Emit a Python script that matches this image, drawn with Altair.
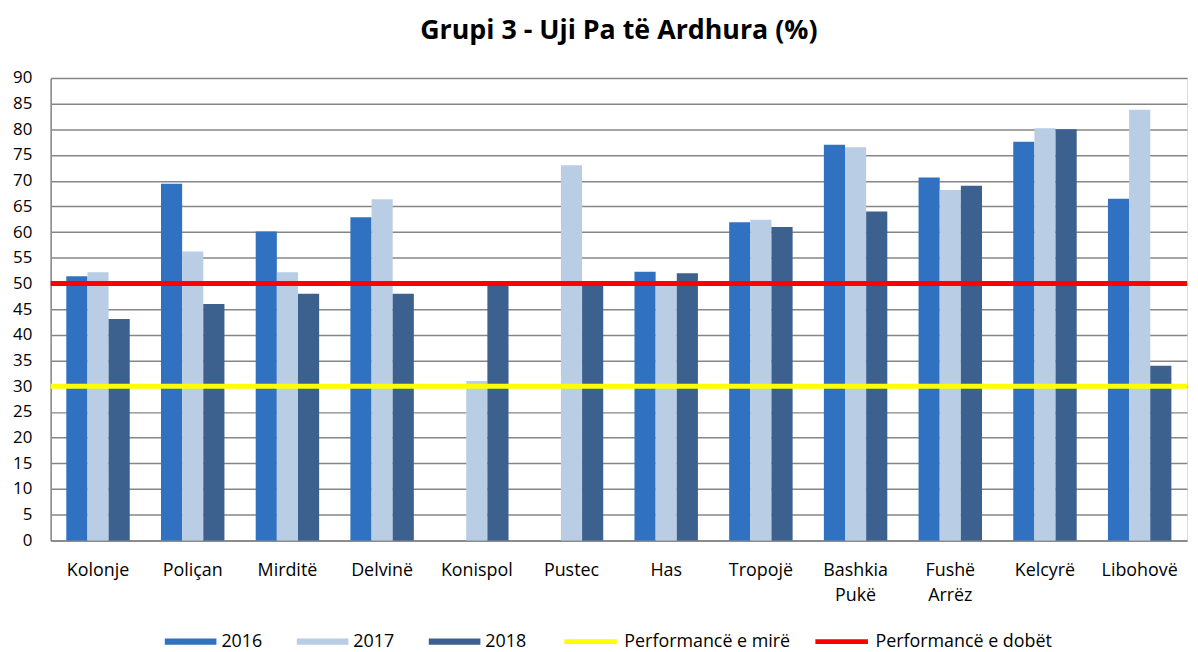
import altair as alt
import pandas as pd

municipalities = ["Kolonje", "Poliçan", "Mirditë", "Delvinë", "Konispol", "Pustec",
                  "Has", "Tropojë", "Bashkia Pukë", "Fushë Arrëz", "Kelcyrë", "Libohovë"]
years = ["2016", "2017", "2018"]
v2016 = [51.4, 69.4, 60.1, 62.9, None, None, 52.3, 61.9, 77.0, 70.6, 77.6, 66.5]
v2017 = [52.2, 56.2, 52.2, 66.4, 31.0, 73.0, 50.2, 62.4, 76.5, 68.2, 80.2, 83.8]
v2018 = [43.1, 46.0, 48.0, 48.0, 49.6, 49.6, 52.0, 61.0, 64.0, 69.0, 80.0, 34.0]
threshold_values = [30, 50]
threshold_labels = ["Performancë e mirë", "Performancë e dobët"]
y_ticks = list(range(0, 91, 5))

bar_colors = ["#3072C1", "#B9CDE5", "#3C618F"]
line_colors = ["#FFFF00", "#FF0000"]
FONT = "Open Sans"

rows = []
for yr, vals in zip(years, [v2016, v2017, v2018]):
    for m, v in zip(municipalities, vals):
        if v is not None:
            rows.append({"Bashkia": m, "Viti": yr, "Vlera": v})
df = pd.DataFrame(rows)
tdf = pd.DataFrame({"Vlera": threshold_values, "Pragu": threshold_labels})

y_axis = alt.Axis(title=None, values=y_ticks, ticks=False, labelOverlap=False,
                  labelFontSize=17, labelFont=FONT, labelColor="#000000",
                  labelPadding=19,
                  grid=True, gridColor="#868686", gridWidth=1.5,
                  domainColor="#868686", domainWidth=1.5)
y_scale = alt.Scale(domain=[0, 90], nice=False, zero=True)

bars = alt.Chart(df).mark_bar().encode(
    x=alt.X("Bashkia:N", sort=municipalities,
            scale=alt.Scale(paddingInner=0.33, paddingOuter=0.165),
            axis=alt.Axis(title=None, labelAngle=0, ticks=False,
                          labelExpr="split(datum.label, ' ')",
                          labelFontSize=18, labelFont=FONT, labelColor="#000000",
                          labelPadding=21, labelLineHeight=26, labelBaseline="top",
                          domainColor="#868686", domainWidth=1.5, grid=False)),
    xOffset=alt.XOffset("Viti:N", scale=alt.Scale(domain=years, paddingInner=0, paddingOuter=0)),
    y=alt.Y("Vlera:Q", scale=y_scale, axis=y_axis),
    color=alt.Color("Viti:N", scale=alt.Scale(domain=years, range=bar_colors),
                    legend=alt.Legend(title=None, orient="none", direction="horizontal",
                                      legendX=115, legendY=542,
                                      symbolType="M-1,-0.12H1V0.12H-1Z", symbolSize=2704,
                                      symbolStrokeWidth=0, symbolOpacity=1,
                                      labelFontSize=18, labelFont=FONT, labelColor="#000000",
                                      labelLimit=400, labelOffset=5, columnPadding=34)),
)

rules = alt.Chart(tdf).mark_rule(strokeWidth=5).encode(
    y=alt.Y("Vlera:Q", scale=y_scale, axis=y_axis),
    stroke=alt.Stroke("Pragu:N", scale=alt.Scale(domain=threshold_labels, range=line_colors),
                      legend=alt.Legend(title=None, orient="none", direction="horizontal",
                                        legendX=515, legendY=539,
                                        symbolType="stroke", symbolSize=2809,
                                        symbolStrokeWidth=5,
                                        labelFontSize=18, labelFont=FONT, labelColor="#000000",
                                        labelLimit=400, labelOffset=5, columnPadding=14)),
)

chart = alt.layer(bars, rules).resolve_scale(color="independent").properties(
    width=1145, height=466,
    padding={"left": 4, "top": 7, "right": 0, "bottom": 0},
    title=alt.Title("Grupi 3 - Uji Pa të Ardhura (%)", fontSize=27, fontWeight="bold",
                    font=FONT, color="#000000", anchor="middle", offset=24),
).configure_view(stroke=None).configure_axisY(labelOverlap=False).configure(background="#FFFFFF")

chart.save("out.html", embed_options={"renderer": "svg", "actions": False})
